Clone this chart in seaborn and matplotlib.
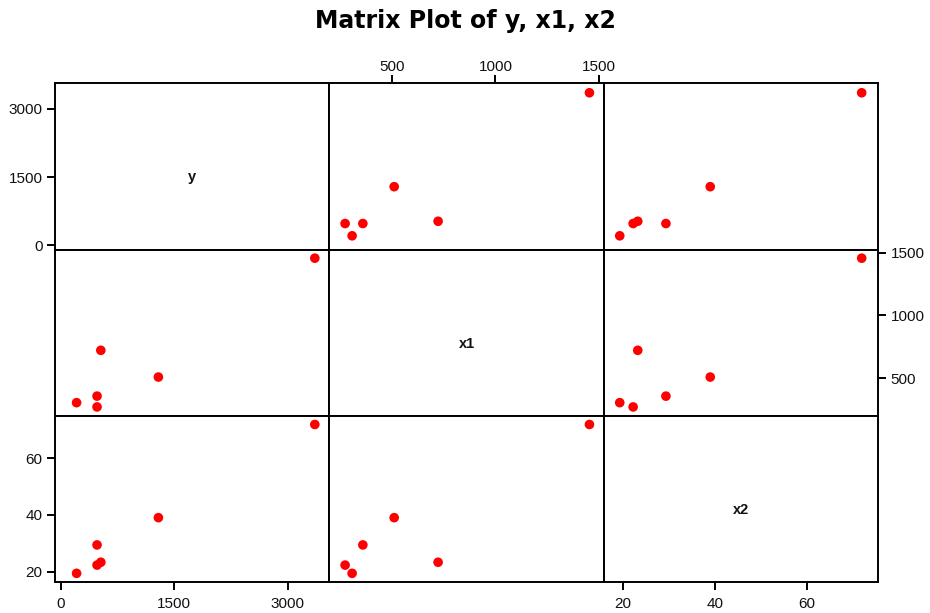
import matplotlib
matplotlib.use("Agg")
import matplotlib.pyplot as plt
import seaborn as sns
import pandas as pd

# Data
y = [210, 480, 480, 530, 1290, 3355]
x1 = [305, 357, 271, 722, 509, 1456]
x2 = [19.4, 29.4, 22.3, 23.3, 39.0, 71.8]
variables = ["y", "x1", "x2"]
tick_y = [0, 1500, 3000]
tick_x1 = [500, 1000, 1500]
tick_x2 = [20, 40, 60]
title = "Matrix Plot of y, x1, x2"

df = pd.DataFrame({"y": y, "x1": x1, "x2": x2})
ticks = {"y": tick_y, "x1": tick_x1, "x2": tick_x2}
col_limits = {"y": (-75, 3548), "x1": (195, 1526), "x2": (15.96, 75.4)}
row_limits = {"y": (-94, 3563), "x1": (199, 1524), "x2": (16.24, 74.8)}

sns.set_theme(style="white")
plt.rcParams['font.family'] = ['Liberation Sans', 'DejaVu Sans']

W, H = 930, 613
fig, axes = plt.subplots(3, 3, figsize=(W / 100, H / 100), dpi=100)
fig.subplots_adjust(left=55 / W, right=878.3 / W, top=1 - 83.3 / H,
                    bottom=1 - 582.3 / H, wspace=0, hspace=0)

for i, rv in enumerate(variables):
    for j, cv in enumerate(variables):
        ax = axes[i][j]
        if i != j:
            sns.scatterplot(data=df, x=cv, y=rv, ax=ax, color="#ff0000",
                            s=48, edgecolor="none", linewidth=0)
        else:
            ax.text(0.5, 0.435, rv, transform=ax.transAxes, ha="center",
                    va="center", fontsize=10.5, fontweight="bold", color="#111111")
        ax.set_xlabel("")
        ax.set_ylabel("")
        ax.set_xlim(*col_limits[cv])
        ax.set_ylim(*row_limits[rv])
        ax.set_xticks(ticks[cv])
        ax.set_yticks(ticks[rv])
        for sp in ax.spines.values():
            sp.set_visible(True)
            sp.set_color("black")
            sp.set_linewidth(1.4)
        show_left = (j == 0 and i in (0, 2))
        show_right = (j == 2 and i == 1)
        show_bottom = (i == 2 and j in (0, 2))
        show_top = (i == 0 and j == 1)
        ax.tick_params(axis="both", direction="out", length=5.5, width=1.4,
                       color="black", labelsize=11, labelcolor="#111111")
        ax.tick_params(axis="y", pad=3.5)
        ax.tick_params(axis="x", pad=1.5 if show_top else 5)
        ax.tick_params(left=show_left, labelleft=show_left,
                       right=show_right, labelright=show_right,
                       bottom=show_bottom, labelbottom=show_bottom,
                       top=show_top, labeltop=show_top)

fig.suptitle(title, x=0.5, y=1 - 21 / H, va="center", fontsize=17,
             fontweight="bold", color="black", family=["DejaVu Sans"])

fig.savefig("out.png", dpi=100)
